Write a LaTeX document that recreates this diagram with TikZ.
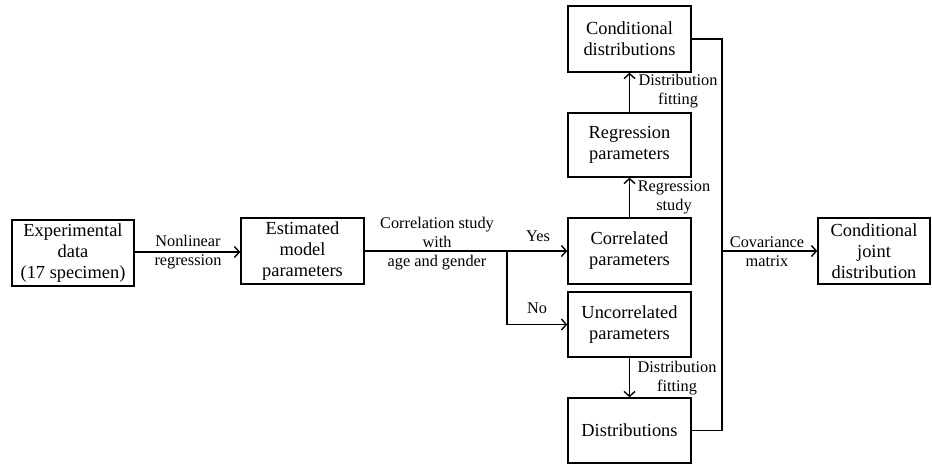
\documentclass[tikz,border=0pt]{standalone}
\usepackage{fontspec}
\setmainfont{Liberation Serif}
\usetikzlibrary{arrows.meta}
\begin{document}
\begin{tikzpicture}[x=1pt,y=1pt,
  box/.style={draw,line width=1.4pt,align=center,inner sep=0pt,
    font=\fontsize{18.4}{21}\selectfont},
  lbl/.style={align=center,inner sep=0pt,font=\fontsize{16.3}{19}\selectfont},
  conn/.style={line width=1.4pt},
  arr/.style={conn,-{Straight Barb[length=5pt,width=11pt,line width=1.4pt]}}]
\useasboundingbox (0,0) rectangle (932,-465);
\node[box,minimum width=122pt,minimum height=66pt] (exp) at (73,-253) {Experimental\\data\\(17 specimen)};
\node[box,minimum width=123pt,minimum height=66pt] (est) at (302.5,-251) {Estimated\\model\\parameters};
\node[box,minimum width=123pt,minimum height=66pt] (corr) at (629.5,-251) {Correlated\\parameters};
\node[box,minimum width=123pt,minimum height=65pt] (unc) at (629.5,-324.5) {Uncorrelated\\parameters};
\node[box,minimum width=123pt,minimum height=65pt] (dist) at (629.5,-430.5) {Distributions};
\node[box,minimum width=123pt,minimum height=64pt] (reg) at (629.5,-145) {Regression\\parameters};
\node[box,minimum width=123pt,minimum height=66pt] (cdist) at (629.5,-39) {Conditional\\distributions};
\node[box,minimum width=112pt,minimum height=66pt] (cjd) at (874,-251) {Conditional\\joint\\distribution};

\coordinate (br) at (507,-251);
\coordinate (busT) at (722,-39);
\coordinate (busM) at (722,-251);

\draw[arr] (exp.east |- 0,-252) -- (est.west |- 0,-252);
\draw[conn] (est.east) -- (br);
\draw[arr] (br) -- (corr.west);
\draw[arr] (br) |- (unc.west);
\draw[arr] (corr.north) -- (reg.south);
\draw[arr] (reg.north) -- (cdist.south);
\draw[arr] (unc.south) -- (dist.north);
\draw[conn] (cdist.east) -- (busT) |- (dist.east);
\draw[arr] (busM) -- (cjd.west);

\node[lbl] (l1) at (188,-252) {Nonlinear\\regression};
\node[lbl] (l2) at (437,-244) {Correlation study\\with\\age and gender};
\node[lbl] (l3) at (538,-236) {Yes};
\node[lbl] (l4) at (537,-308) {No};
\node[lbl] (l5) at (674,-197) {Regression\\study};
\node[lbl] (l6) at (678,-91) {Distribution\\fitting};
\node[lbl] (l7) at (677,-378) {Distribution\\fitting};
\node[lbl] (l8) at (767,-252) {Covariance\\matrix};
\end{tikzpicture}
\end{document}
